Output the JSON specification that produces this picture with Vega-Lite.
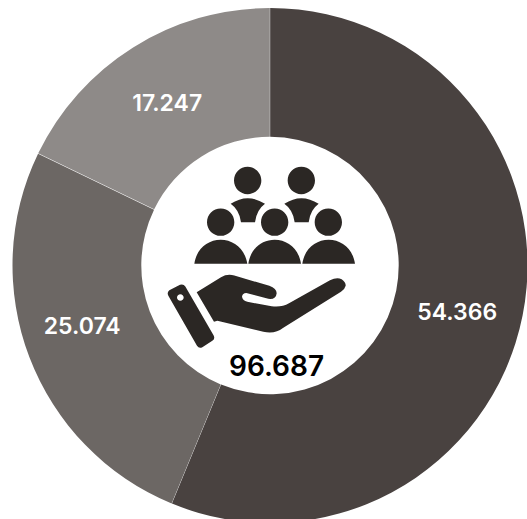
{
  "$schema": "https://vega.github.io/schema/vega-lite/v6.json",
  "width": 514,
  "height": 507,
  "autosize": "none",
  "padding": {"left": 13, "top": 12, "right": 0, "bottom": 0},
  "background": "white",
  "view": {"stroke": null},
  "datasets": {
    "segments": [
      {"segment": "A", "rank": 1, "value": 54366, "label": "54.366"},
      {"segment": "B", "rank": 2, "value": 25074, "label": "25.074"},
      {"segment": "C", "rank": 3, "value": 17247, "label": "17.247"}
    ],
    "total": [{"label": "96.687"}]
  },
  "layer": [
    {
      "data": {"name": "segments"},
      "mark": {"type": "arc", "outerRadius": 257.5, "innerRadius": 128.7, "padAngle": 0.0012},
      "encoding": {
        "theta": {"field": "value", "type": "quantitative", "stack": true},
        "order": {"field": "rank", "type": "quantitative"},
        "color": {"field": "segment", "type": "nominal", "legend": null,
          "scale": {"domain": ["A", "B", "C"], "range": ["#494240", "#6c6764", "#8e8a88"]}}
      }
    },
    {
      "data": {"name": "segments"},
      "mark": {"type": "text", "radius": 192, "font": "Inter", "fontWeight": 600, "fontSize": 23, "color": "#ffffff", "align": "center", "baseline": "middle",
        "dx": {"expr": "datum.segment === 'A' ? -1.1 : datum.segment === 'B' ? -8.4 : -0.8"},
        "dy": {"expr": "datum.segment === 'A' ? 10 : datum.segment === 'B' ? -6.5 : 0.8"}},
      "encoding": {
        "theta": {"field": "value", "type": "quantitative", "stack": true},
        "order": {"field": "rank", "type": "quantitative"},
        "text": {"field": "label", "type": "nominal"}
      }
    },
    {
      "data": {"name": "total"},
      "mark": {"type": "point", "filled": true, "opacity": 1, "size": 0.4444, "color": "#2b2724",
        "shape": "M-108,-255A41,41 0 1 1 -26,-255A41,41 0 1 1 -108,-255Z M53,-255A41,41 0 1 1 135,-255A41,41 0 1 1 53,-255Z M-189,-130A41,41 0 1 1 -107,-130A41,41 0 1 1 -189,-130Z M-27,-130A41,41 0 1 1 55,-130A41,41 0 1 1 -27,-130Z M134,-130A41,41 0 1 1 216,-130A41,41 0 1 1 134,-130Z M-227,-5C-221,-50 -186,-77 -148,-77C-110,-77 -75,-50 -68,-5Z M-65,-5C-59,-50 -24,-77 14,-77C52,-77 87,-50 93,-5Z M97,-5C103,-50 138,-77 176,-77C214,-77 249,-50 255,-5Z M-118,-185Q-67,-219 -15,-185Q-40,-167 -45,-130L-87,-130Q-92,-167 -118,-185Z M43,-185Q94,-219 146,-185Q121,-167 116,-130L74,-130Q69,-167 43,-185Z M-220,80L-147,35Q-128,24 -107,30L-2,61Q20,69 20,83Q18,103 -5,100L-68,83Q-82,81 -84,94Q-82,106 -68,109L5,122Q35,126 57,113L180,44Q200,35 215,41Q228,50 227,61Q224,73 213,79L40,187Q15,207 -20,199L-158,166L-168,169Z M-302,74L-270,58Q-260,54 -254,63L-169,210Q-164,220 -173,226L-203,245Q-213,250 -219,241L-305,91Q-310,80 -302,74Z M-279,96A10,10 0 0 0 -259,96A10,10 0 0 0 -279,96Z"},
      "encoding": {}
    },
    {
      "data": {"name": "total"},
      "mark": {"type": "text", "font": "Inter", "fontWeight": 600, "fontSize": 28, "color": "#000000", "align": "center", "baseline": "middle", "dx": 6.5, "dy": 102},
      "encoding": {"text": {"field": "label", "type": "nominal"}}
    }
  ]
}
